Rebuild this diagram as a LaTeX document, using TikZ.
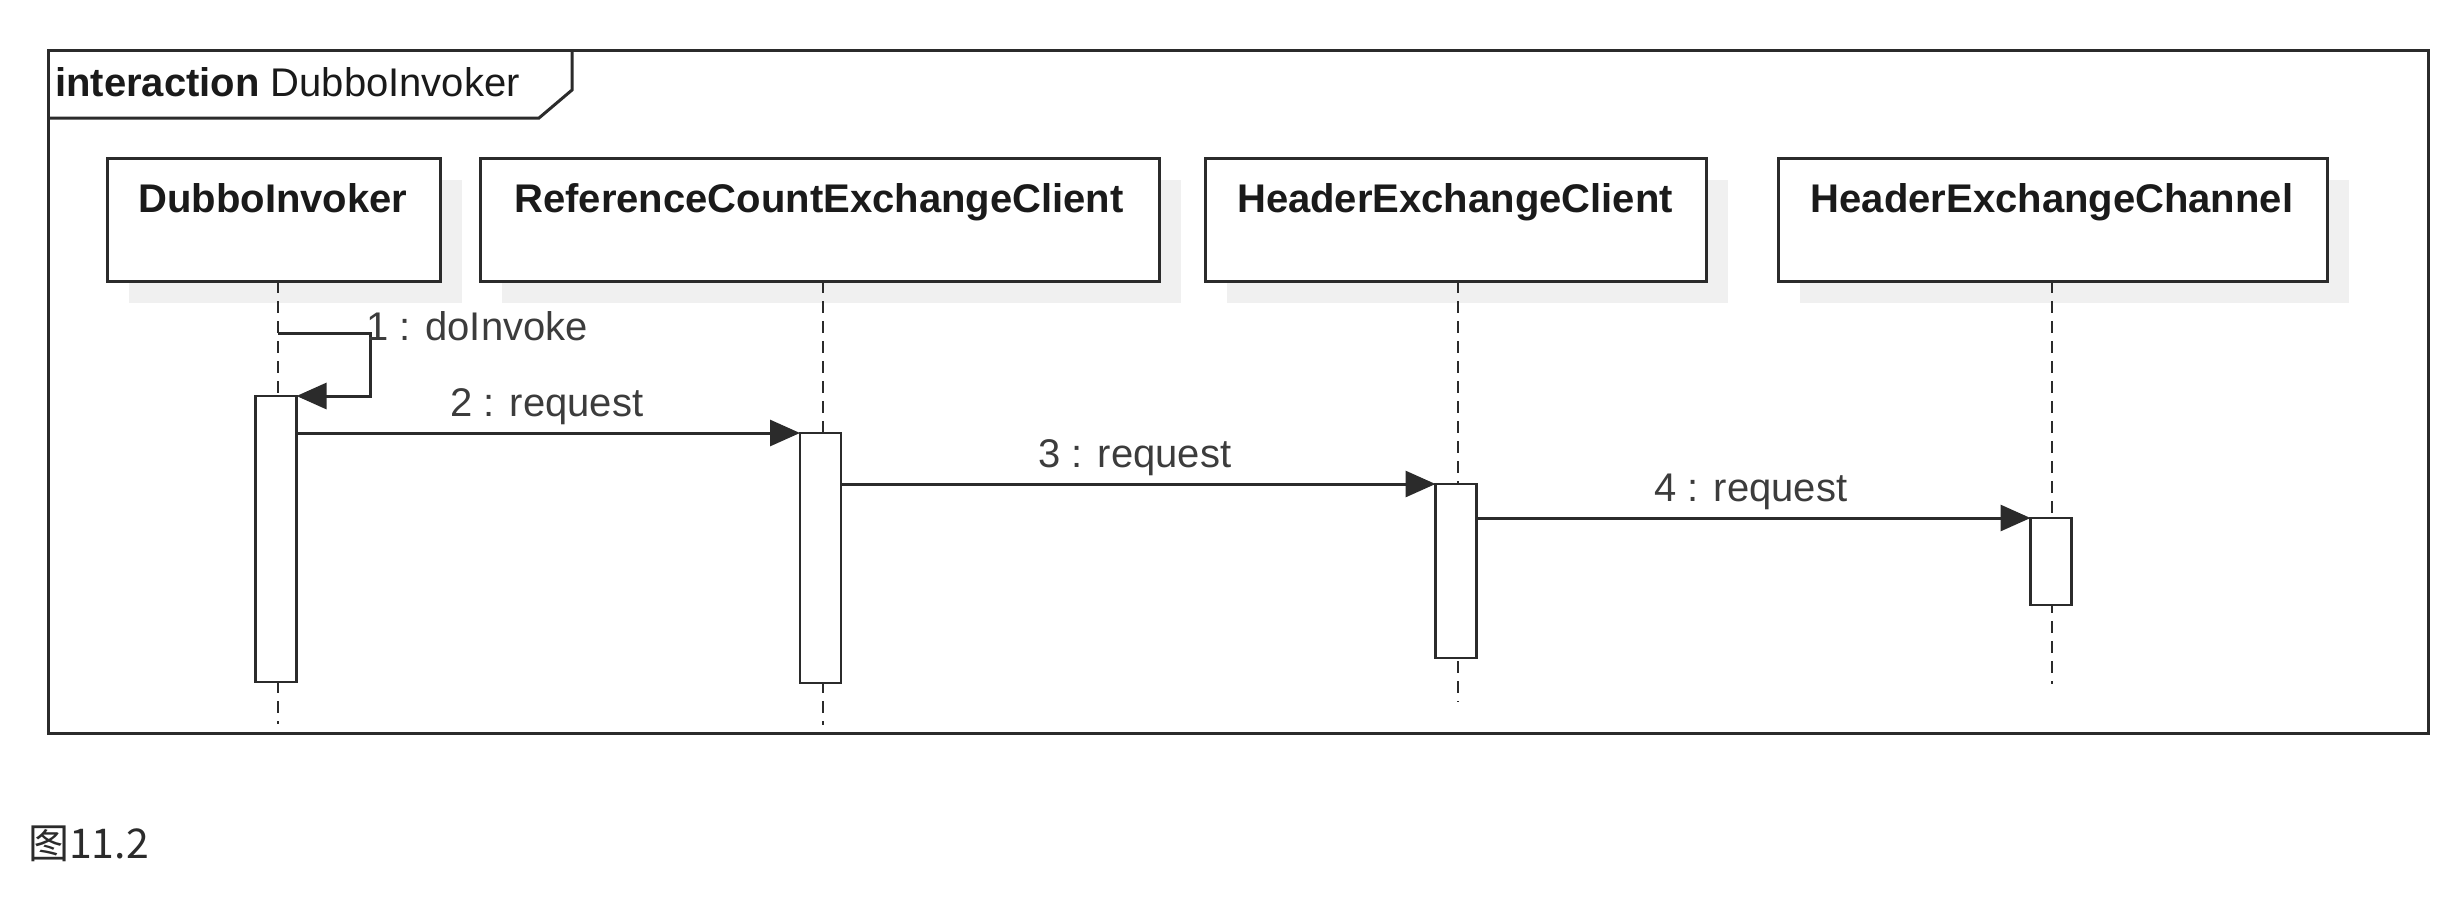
\documentclass[tikz,border=0pt]{standalone}
\usepackage{fontspec}
\setmainfont{Liberation Sans}
\newfontfamily\cjk{Noto Sans CJK SC}
\usetikzlibrary{arrows.meta}
\definecolor{ln}{HTML}{2B2B2B}
\definecolor{tx}{HTML}{1A1A1A}
\definecolor{shd}{HTML}{F0F0F0}
\tikzset{
  objbox/.style={draw=ln, line width=3pt, fill=white, inner sep=0pt, outer sep=0pt},
  shadowbox/.style={fill=shd, draw=none},
  objtext/.style={text=tx, font=\fontsize{40}{48}\selectfont\bfseries, inner sep=0pt},
  lifeline/.style={draw=ln, line width=2pt, dash pattern=on 12pt off 8pt},
  actbox/.style={draw=ln, line width=2.5pt, fill=white, outer sep=0pt, inner sep=0pt},
  msg/.style={draw=ln, line width=3pt, -{Triangle[length=30pt,width=26pt]}},
  msgtext/.style={text=tx!85, font=\fontsize{40}{48}\selectfont, inner sep=0pt},
  framebox/.style={draw=ln, line width=3pt},
}
\begin{document}
\begin{tikzpicture}[x=1pt,y=-1pt]
\useasboundingbox (0,0) rectangle (2454,898);
% frame
\draw[framebox] (48,50) rectangle (2428,733);
\draw[framebox] (48,118) -- (539,118) -- (572,90) -- (572,50);
\node[anchor=base west, text=tx, font=\fontsize{40}{48}\selectfont, inner sep=0pt] (title) at (55,96) {\textbf{interaction} DubboInvoker};
% shadows
\fill[shadowbox] (129,180) rectangle (462,303);
\fill[shadowbox] (502,180) rectangle (1181,303);
\fill[shadowbox] (1227,180) rectangle (1728,303);
\fill[shadowbox] (1800,180) rectangle (2349,303);
% object boxes
\node[objbox, minimum width=333pt, minimum height=123pt] (di) at (273.5,219.5) {};
\node[objbox, minimum width=679pt, minimum height=123pt] (rc) at (819.5,219.5) {};
\node[objbox, minimum width=501pt, minimum height=123pt] (hc) at (1455.5,219.5) {};
\node[objbox, minimum width=549pt, minimum height=123pt] (hh) at (2052.5,219.5) {};
\node[objtext, anchor=base] (dit) at (273,212) {DubboInvoker};
\node[objtext, anchor=base] (rct) at (819,212) {ReferenceCountExchangeClient};
\node[objtext, anchor=base] (hct) at (1455,212) {HeaderExchangeClient};
\node[objtext, anchor=base] (hht) at (2052,212) {HeaderExchangeChannel};
% lifeline ends
\coordinate (diE) at (278,724);
\coordinate (rcE) at (823,725);
\coordinate (hcE) at (1458,702);
\coordinate (hhE) at (2052,684);
\draw[lifeline] (di.south -| diE) -- (diE);
\draw[lifeline] (rc.south -| rcE) -- (rcE);
\draw[lifeline] (hc.south -| hcE) -- (hcE);
\draw[lifeline] (hh.south -| hhE) -- (hhE);
% activations
\node[actbox, minimum width=41pt, minimum height=286pt] (a1) at (276,539) {};
\node[actbox, minimum width=41pt, minimum height=250pt] (a2) at (820.5,558) {};
\node[actbox, minimum width=41pt, minimum height=174pt] (a3) at (1456,571) {};
\node[actbox, minimum width=41pt, minimum height=87pt] (a4) at (2051,561.5) {};
% self message
\coordinate (s0) at (278,333);
\coordinate (s1) at (370,333);
\draw[msg] (s0) -- (s1) |- (a1.north east);
\node[msgtext, anchor=base west] (m1) at (366,340) {1 : doInvoke};
% messages
\draw[msg] (a1.east |- a2.north) -- (a2.north west);
\node[msgtext, anchor=base] (m2) at (547,416) {2 : request};
\draw[msg] (a2.east |- a3.north) -- (a3.north west);
\node[msgtext, anchor=base] (m3) at (1135,467) {3 : request};
\draw[msg] (a3.east |- a4.north) -- (a4.north west);
\node[msgtext, anchor=base] (m4) at (1751,501) {4 : request};
% caption
\node[anchor=base west, text=ln, font=\fontsize{41}{48}\cjk, inner sep=0pt] (cap) at (28,858) {图11.2};
\end{tikzpicture}
\end{document}
